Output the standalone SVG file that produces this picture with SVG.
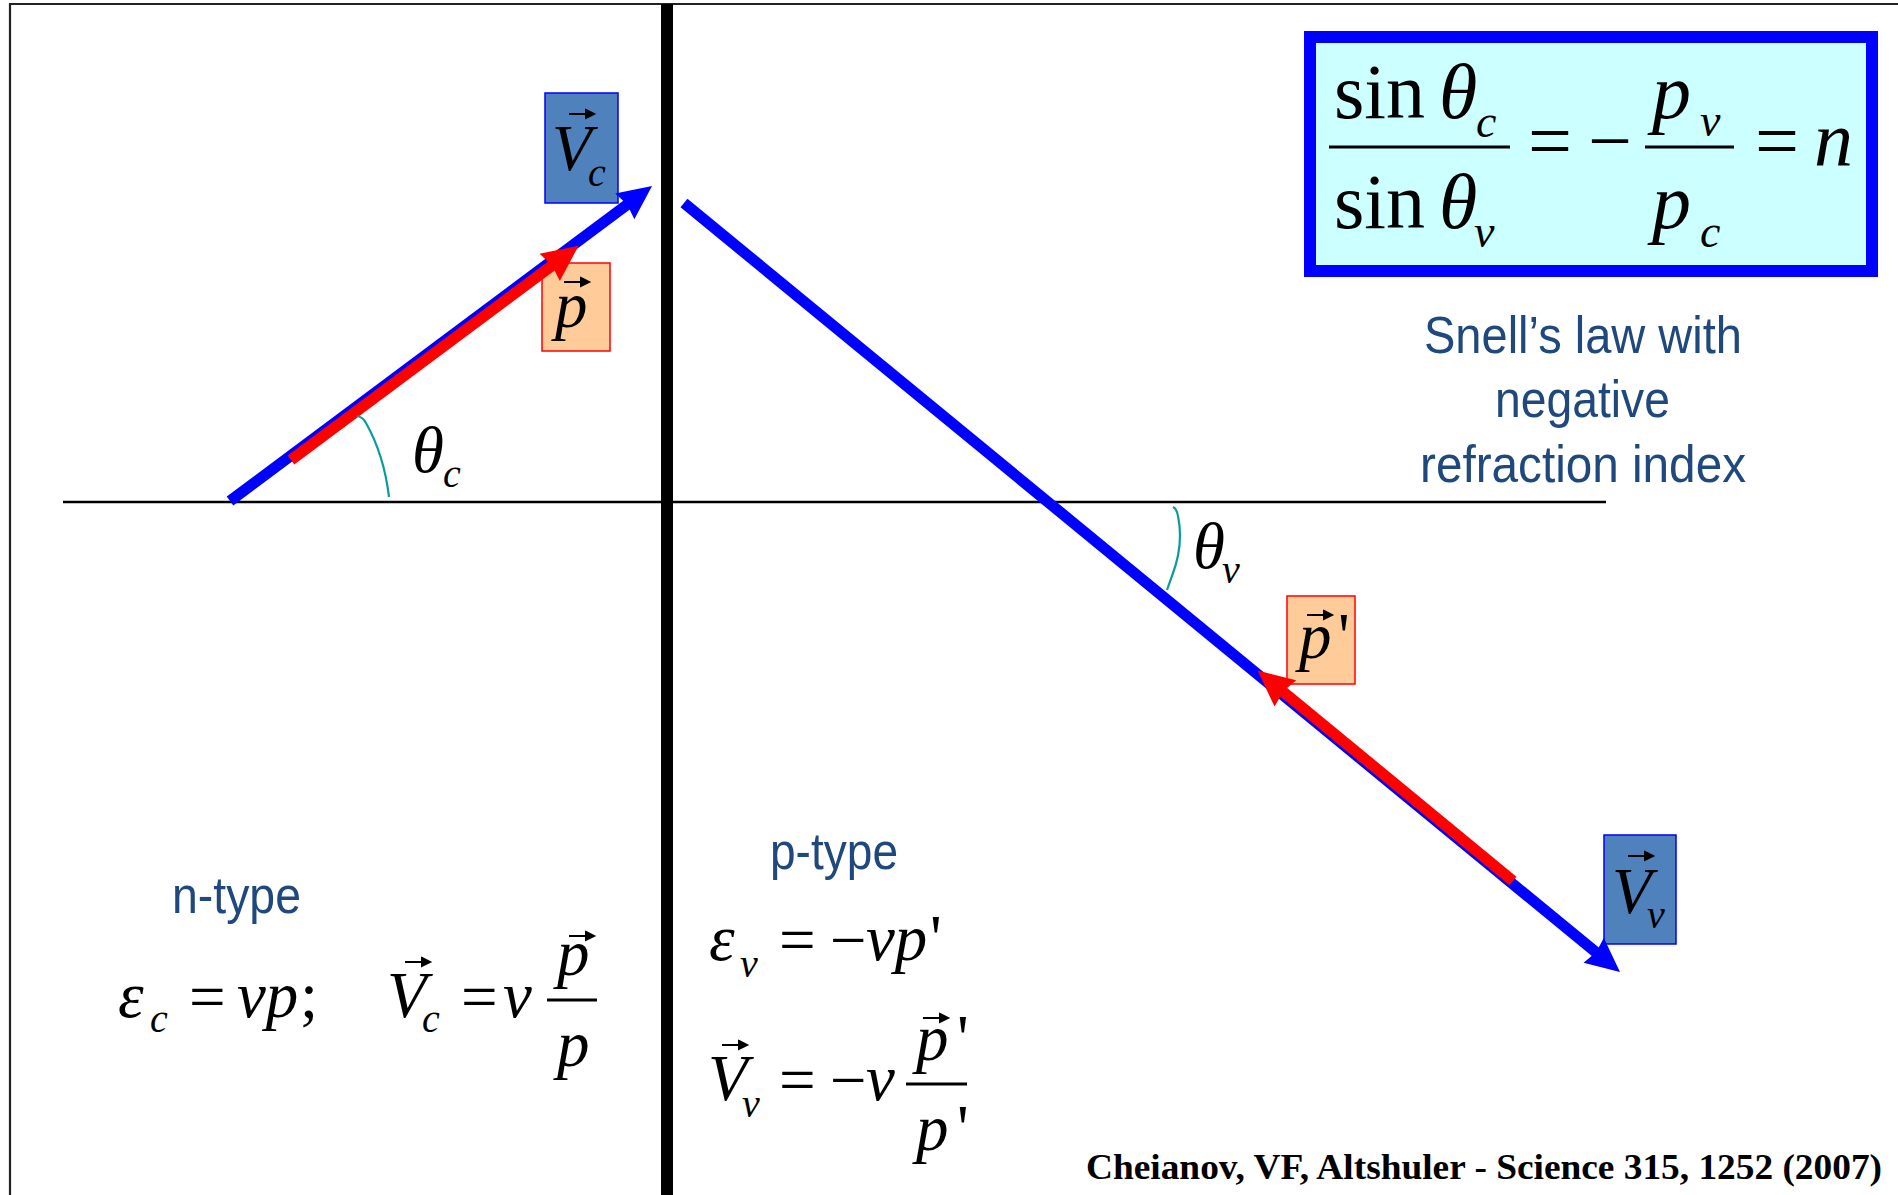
<svg xmlns="http://www.w3.org/2000/svg" xmlns:xlink="http://www.w3.org/1999/xlink" width="1898" height="1195" viewBox="0 0 1898 1195">
<style>
.m{font-family:"Liberation Serif","Times New Roman",serif;fill:#000}
.i{font-style:italic}
.big{font-size:65px}
.sub{font-size:40px}
.fb{font-size:78px}
.fs{font-size:46px}
.nar{font-family:"Liberation Sans",Arial,sans-serif;fill:#1F497D;font-size:52px}
.vbox{fill:#4F81BD;stroke:#0000FF;stroke-width:1.5}
.pbox{fill:#FFCC99;stroke:#FF0000;stroke-width:1.5}
.blue{stroke:#0000FF;stroke-width:11;fill:none;marker-end:url(#hb)}
.red{stroke:#FF0000;stroke-width:11;fill:none;marker-end:url(#hr)}
.arc{stroke:#0A9B9B;stroke-width:2.2;fill:none}
.fl{stroke:#000;stroke-width:3}
</style>
<defs>
<marker id="hb" markerUnits="userSpaceOnUse" markerWidth="40" markerHeight="40" refX="8" refY="0" viewBox="0 -20 40 40" orient="auto" overflow="visible">
<path d="M0,-16 L34,0 L0,16 L3,0 z" fill="#0000FF"/>
</marker>
<marker id="hr" markerUnits="userSpaceOnUse" markerWidth="40" markerHeight="40" refX="8" refY="0" viewBox="0 -20 40 40" orient="auto" overflow="visible">
<path d="M0,-17 L36,0 L0,17 L3,0 z" fill="#FF0000"/>
</marker>
<path id="va" d="M0,0 H22 M17,-4 L25,0 L17,4 z" stroke="#000" stroke-width="2" fill="#000"/>
</defs>
<rect width="1898" height="1195" fill="#fff"/>
<g id="frame" fill="none" stroke="#222" stroke-width="2.2">
<path d="M1898,4 H10 V1195"/>
</g>
<g id="axes">
<line x1="63" y1="502" x2="1606" y2="502" stroke="#000" stroke-width="2.6"/>
<line x1="667" y1="4" x2="667" y2="1195" stroke="#000" stroke-width="12"/>
</g>
<g id="formula">
<rect x="1310" y="37" width="562" height="234" fill="#CCFFFF" stroke="#0000FF" stroke-width="12"/>
<text class="m fb" x="1334" y="118">sin</text>
<text class="m fb i" x="1439" y="118">θ</text>
<text class="m fs i" x="1476" y="137">c</text>
<line class="fl" x1="1329" y1="147" x2="1510" y2="147"/>
<text class="m fb" x="1334" y="228">sin</text>
<text class="m fb i" x="1439" y="228">θ</text>
<text class="m fs i" x="1474" y="247">v</text>
<text class="m fb" x="1528" y="167">=</text>
<text class="m fb" x="1588" y="167">−</text>
<line class="fl" x1="1645" y1="147" x2="1734" y2="147"/>
<text class="m fb i" x="1652" y="118">p</text>
<text class="m fs i" x="1700" y="136">v</text>
<text class="m fb i" x="1652" y="228">p</text>
<text class="m fs i" x="1700" y="247">c</text>
<text class="m fb" x="1755" y="167">=</text>
<text class="m fb i" x="1814" y="166">n</text>
</g>
<g id="snell-caption">
<text class="nar" x="1424" y="353" textLength="318" lengthAdjust="spacingAndGlyphs">Snell’s law with</text>
<text class="nar" x="1495" y="417" textLength="175" lengthAdjust="spacingAndGlyphs">negative</text>
<text class="nar" x="1420" y="482" textLength="326" lengthAdjust="spacingAndGlyphs">refraction index</text>
</g>
<g id="label-Vc">
<rect class="vbox" x="545" y="93" width="73" height="110"/>
<text class="m big i" x="552" y="170">V</text>
<use xlink:href="#va" x="569" y="114"/>
<text class="m sub i" x="588" y="186">c</text>
</g>
<g id="label-p">
<rect class="pbox" x="542" y="263" width="68" height="88"/>
<text class="m big i" x="555" y="327">p</text>
<use xlink:href="#va" x="564" y="282"/>
</g>
<g id="label-pprime">
<rect class="pbox" x="1287" y="596" width="68" height="88"/>
<text class="m big i" x="1299" y="658">p</text>
<use xlink:href="#va" x="1307" y="615"/>
<text class="m big" x="1338" y="658">'</text>
</g>
<g id="label-Vv">
<rect class="vbox" x="1604" y="835" width="72" height="109"/>
<text class="m big i" x="1612" y="913">V</text>
<use xlink:href="#va" x="1628" y="856"/>
<text class="m sub i" x="1647" y="928">v</text>
</g>
<g id="theta-c">
<text class="m big i" x="412" y="472">θ</text>
<text class="m sub i" x="443" y="487">c</text>
</g>
<g id="theta-v">
<text class="m big i" x="1193" y="568">θ</text>
<text class="m sub i" x="1222" y="583">v</text>
</g>
<g id="n-type">
<text class="nar" x="172" y="913" textLength="129" lengthAdjust="spacingAndGlyphs">n-type</text>
<text class="m big i" x="118" y="1017">ε</text>
<text class="m sub i" x="150" y="1032">c</text>
<text class="m big" x="189" y="1019">=</text>
<text class="m big i" x="237" y="1017">vp</text>
<text class="m big" x="300" y="1017">;</text>
<text class="m big i" x="387" y="1017">V</text>
<use xlink:href="#va" x="405" y="962"/>
<text class="m sub i" x="422" y="1032">c</text>
<text class="m big" x="461" y="1019">=</text>
<text class="m big i" x="503" y="1017">v</text>
<line class="fl" x1="547" y1="1000" x2="597" y2="1000" stroke-width="2.5"/>
<text class="m big i" x="557" y="975">p</text>
<use xlink:href="#va" x="569" y="936"/>
<text class="m big i" x="557" y="1066">p</text>
</g>
<g id="p-type">
<text class="nar" x="770" y="869" textLength="128" lengthAdjust="spacingAndGlyphs">p-type</text>
<text class="m big i" x="709" y="960">ε</text>
<text class="m sub i" x="740" y="977">v</text>
<text class="m big" x="779" y="962">=</text>
<text class="m big" x="830" y="962">−</text>
<text class="m big i" x="866" y="960">vp</text>
<text class="m big" x="930" y="960">'</text>
<text class="m big i" x="708" y="1100">V</text>
<use xlink:href="#va" x="722" y="1045"/>
<text class="m sub i" x="742" y="1117">v</text>
<text class="m big" x="779" y="1102">=</text>
<text class="m big" x="830" y="1102">−</text>
<text class="m big i" x="866" y="1100">v</text>
<line class="fl" x1="906" y1="1084" x2="967" y2="1084" stroke-width="2.5"/>
<text class="m big i" x="916" y="1060">p</text>
<use xlink:href="#va" x="923" y="1018"/>
<text class="m big" x="957" y="1060">'</text>
<text class="m big i" x="916" y="1150">p</text>
<text class="m big" x="957" y="1150">'</text>
</g>
<g id="citation">
<text class="m" x="1086" y="1179" font-size="35" font-weight="bold" textLength="796" lengthAdjust="spacingAndGlyphs">Cheianov, VF, Altshuler - Science 315, 1252 (2007)</text>
</g>
<g id="connectors">
<line class="blue" x1="230" y1="501" x2="631.2" y2="201.6"/>
<line class="red" x1="291" y1="460" x2="556.1" y2="262.5"/>
<line class="blue" x1="684" y1="203" x2="1599.9" y2="955.5"/>
<line class="red" x1="1513" y1="881" x2="1279.2" y2="688.4"/>
<path class="arc" d="M357,416 Q363,417 366,423 Q384,455 389,497"/>
<path class="arc" d="M1173,507 Q1177,509 1178,516 Q1184,545 1172,576 L1167,590"/>
</g>
</svg>
